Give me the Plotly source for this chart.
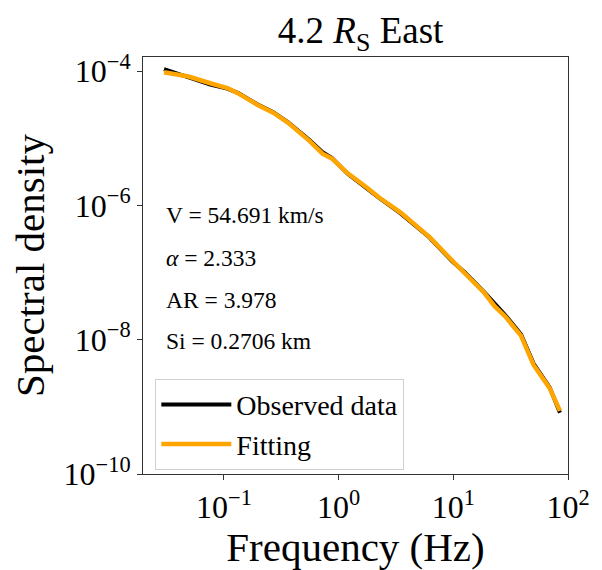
import plotly.graph_objects as go

# Frequency (Hz)
freq = [0.030, 0.049, 0.076, 0.107, 0.132, 0.195, 0.269, 0.363, 0.55, 0.724,
        0.871, 1.20, 1.78, 2.24, 3.47, 6.17, 9.77, 12.6, 18.6, 22.9,
        28.2, 38.9, 50.1, 69.2, 85.1]
# Observed spectral density
observed = [1.07e-4, 8.1e-5, 6.3e-5, 5.5e-5, 4.75e-5, 3.2e-5, 2.45e-5, 1.72e-5, 9.6e-6, 6.2e-6,
            5.1e-6, 2.95e-6, 1.75e-6, 1.30e-6, 7.6e-7, 3.35e-7, 1.47e-7, 1.0e-7, 5.1e-8, 3.5e-8,
            2.35e-8, 1.2e-8, 4.4e-9, 1.95e-9, 8.2e-10]
# Fitted spectral density
fitting = [9.6e-5, 8.3e-5, 6.6e-5, 5.6e-5, 4.7e-5, 3.16e-5, 2.40e-5, 1.70e-5, 9.3e-6, 5.9e-6,
           5.0e-6, 3.0e-6, 1.82e-6, 1.32e-6, 7.8e-7, 3.4e-7, 1.51e-7, 9.8e-8, 5.0e-8, 3.16e-8,
           2.24e-8, 1.15e-8, 4.2e-9, 1.9e-9, 8.7e-10]

params = ["V = 54.691 km/s", "<i>α</i> = 2.333", "AR = 3.978", "Si = 0.2706 km"]
param_y = [0.620, 0.517, 0.418, 0.318]

xtick_vals = [0.1, 1, 10, 100]
xtick_text = ["10<sup>−1</sup>", "10<sup>0</sup>", "10<sup>1</sup>", "10<sup>2</sup>"]
ytick_vals = [1e-4, 1e-6, 1e-8, 1e-10]
ytick_text = ["10<sup>−4</sup>", "10<sup>−6</sup>", "10<sup>−8</sup>", "10<sup>−10</sup>"]

FONT = "Liberation Serif"

fig = go.Figure()
fig.add_trace(go.Scatter(x=freq, y=observed, mode="lines", name="Observed data",
                         line=dict(color="black", width=4)))
fig.add_trace(go.Scatter(x=freq, y=fitting, mode="lines", name="Fitting",
                         line=dict(color="orange", width=4.5)))

for txt, yy in zip(params, param_y):
    fig.add_annotation(text=txt, x=0.05, y=yy, xref="paper", yref="paper",
                       xanchor="left", yanchor="middle", showarrow=False,
                       font=dict(family=FONT, size=23.5, color="black"))

axis_common = dict(showline=True, linecolor="#333", linewidth=1, mirror=True,
                   ticks="outside", ticklen=5, tickcolor="#333", showgrid=False,
                   zeroline=False, tickfont=dict(family=FONT, size=32, color="black"))

fig.update_xaxes(type="log", range=[-1.706, 2], tickvals=xtick_vals, ticktext=xtick_text,
                 title=dict(text="Frequency (Hz)", font=dict(family=FONT, size=41, color="black"),
                            standoff=4),
                 **axis_common)
fig.update_yaxes(type="log", range=[-10, -3.79], tickvals=ytick_vals, ticktext=ytick_text,
                 title=dict(text="Spectral density", font=dict(family=FONT, size=41, color="black"),
                            standoff=6),
                 **axis_common)

fig.update_layout(
    width=602, height=570,
    margin=dict(l=143, r=24, t=57, b=89),
    paper_bgcolor="white", plot_bgcolor="white",
    title=dict(text="4.2 <i>R</i><sub>S</sub> East", x=0.599, xref="container", xanchor="center",
               y=1 - 30 / 570, yref="container", yanchor="middle",
               font=dict(family=FONT, size=37, color="black")),
    legend=dict(x=0.029, y=0.01, xanchor="left", yanchor="bottom",
                bgcolor="rgba(255,255,255,0.8)", bordercolor="#d0d0d0", borderwidth=1,
                itemwidth=70,
                font=dict(family=FONT, size=28, color="black")),
    showlegend=True,
)

fig.write_html("out.html")
